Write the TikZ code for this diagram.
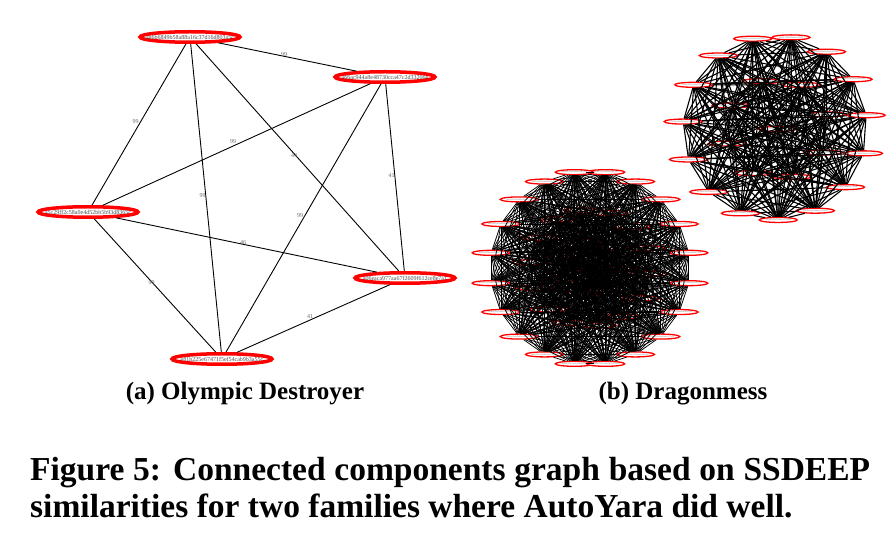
\documentclass[tikz,border=0pt]{standalone}
\usepackage{fontspec}
\setmainfont{Liberation Serif}
\usetikzlibrary{shapes.geometric,positioning}

\newcommand{\hashtext}[1]{\makebox[0pt]{#1}}

\begin{document}
\begin{tikzpicture}[x=1pt, y=-1pt,
    hashnode/.style={ellipse, draw=red, line width=3.5pt, fill=white, inner sep=0pt, minimum width=100pt, minimum height=10.5pt, font=\fontsize{6}{7}\selectfont, text=black!70},
    smallnode/.style={ellipse, draw=red, line width=1.3pt, fill=white, inner sep=0pt, minimum width=38pt, minimum height=5pt, font=\fontsize{2}{2}\selectfont, text=black!55},
    edge1/.style={draw=black, line width=0.9pt},
    edge2/.style={draw=black, line width=0.75pt},
    edge3/.style={draw=black, line width=1.1pt},
    wlabel/.style={font=\fontsize{6}{6}\selectfont, text=black!60, inner sep=0pt, above left},
    subcap/.style={font=\fontsize{25}{30}\selectfont\bfseries},
    caption/.style={font=\fontsize{33.5}{40}\selectfont\bfseries, anchor=base west, inner sep=0pt}
]
    \useasboundingbox (0,0) rectangle (887,534);

    % (a) Olympic Destroyer
    \node [hashnode] (h1) at (190,37) {\hashtext{ab6b6849b58a88a16c37d16d803a5c}};
    \node [hashnode] (h2) at (385,77) {\hashtext{a66ac944a8e48730cca47c2d33206e}};
    \node [hashnode] (h3) at (88,212) {\hashtext{a5c29ff2c58a0e4d52bb5b93d8365c}};
    \node [hashnode] (h4) at (405,278) {\hashtext{a06eaca977aa67f2609f612ce8e7a1}};
    \node [hashnode] (h5) at (222,359) {\hashtext{e81b225e67471f5ef54cab9b3a55c}};

    \draw [edge1] (h1) -- node [wlabel] {99} (h2);
    \draw [edge1] (h1) -- node [wlabel] {99} (h3);
    \draw [edge1] (h1) -- node [wlabel] {44} (h4);
    \draw [edge1] (h1) -- node [wlabel] {99} (h5);
    \draw [edge1] (h2) -- node [wlabel] {99} (h3);
    \draw [edge1] (h2) -- node [wlabel] {41} (h4);
    \draw [edge1] (h2) -- node [wlabel] {99} (h5);
    \draw [edge1] (h3) -- node [wlabel] {46} (h4);
    \draw [edge1] (h3) -- node [wlabel] {99} (h5);
    \draw [edge1] (h4) -- node [wlabel] {41} (h5);

    % (b) Dragonmess, lower cluster
    \foreach \k in {0,...,19} {
        \pgfmathsetmacro\ang{9+18*\k}
        \node [smallnode] (p\k) at ({590+100*cos(\ang)},{268-97*sin(\ang)}) {\hashtext{c4e91a07b2f35d86e0a9\k b71d3f}};
    }
    \foreach \k in {0,...,13} {
        \pgfmathsetmacro\ang{20+360/14*\k}
        \pgfmathtruncatemacro\n{20+\k}
        \node [smallnode] (p\n) at ({590+60*cos(\ang)},{268-58*sin(\ang)}) {\hashtext{7d0e3a95c1f4b28e6a\n d09c2}};
    }
    \foreach \k in {0,...,6} {
        \pgfmathsetmacro\ang{50+360/7*\k}
        \pgfmathtruncatemacro\n{34+\k}
        \node [smallnode] (p\n) at ({590+28*cos(\ang)},{268-27*sin(\ang)}) {\hashtext{f28b61c0e7a5d39b4e\n 1a7c}};
    }
    \node [smallnode] (p41) at (590,268) {\hashtext{0b9e4d27a6c13f58e2d7b41a9c}};
    \foreach \i in {0,...,40} {
        \pgfmathtruncatemacro\s{\i+1}
        \foreach \j in {\s,...,41}
            \draw [edge2] (p\i) -- (p\j);
    }

    % (b) Dragonmess, upper cluster
    \foreach \k in {0,...,14} {
        \pgfmathsetmacro\ang{8+24*\k}
        \node [smallnode] (q\k) at ({775+92*cos(\ang)},{128-92*sin(\ang)}) {\hashtext{5a3c8e1f09d7b64a2e\k c3f18b}};
    }
    \foreach \k in {0,...,7} {
        \pgfmathsetmacro\ang{17+45*\k}
        \pgfmathtruncatemacro\n{15+\k}
        \node [smallnode] (q\n) at ({777+52*cos(\ang)},{129-50*sin(\ang)}) {\hashtext{e6b14f0a92c7d853e1\n 4b0d}};
    }
    \node [smallnode] (q23) at (777,129) {\hashtext{93d7a0c5e48f1b26d0a7c9e3}};
    \foreach \i in {0,...,22} {
        \pgfmathtruncatemacro\s{\i+1}
        \foreach \j in {\s,...,23}
            \draw [edge3] (q\i) -- (q\j);
    }

    % captions
    \node [subcap] (capa) at (245,394) {(a) Olympic Destroyer};
    \node [subcap] (capb) at (683,394) {(b) Dragonmess};
    \node [caption] (cap1) at (30,481) {\makebox[840pt][s]{Figure 5: Connected components graph based on SSDEEP}};
    \node [caption] (cap2) at (30,518) {similarities for two families where AutoYara did well.};
\end{tikzpicture}
\end{document}
